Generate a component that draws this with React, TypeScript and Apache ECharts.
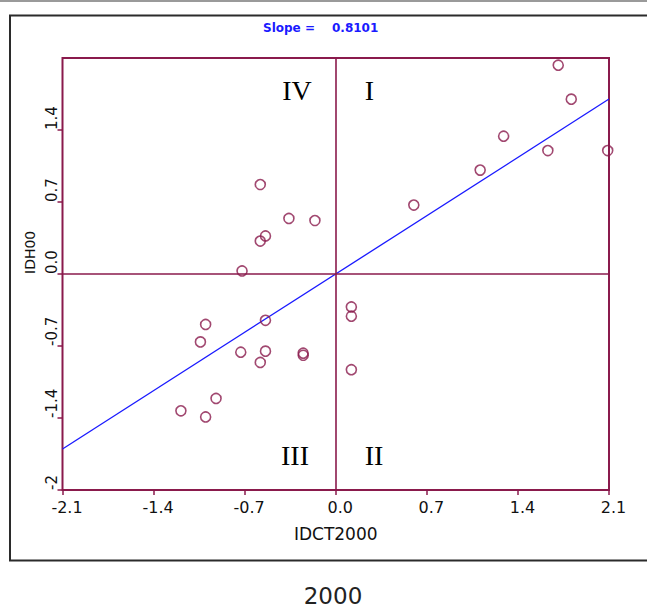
import React, { useEffect, useRef } from "react";
import * as echarts from "echarts";

// ---- data ----
const SLOPE = 0.8101;
const AXIS_MIN = -2.1;
const AXIS_MAX = 2.1;
const TICK_STEP = 0.7;
const xName = "IDCT2000";
const yName = "IDH00";
const caption = "2000";

const xValues = [
  1.71, 1.81, 1.29, 1.11, 1.63, 2.09, 0.6,
  -0.58, -0.36, -0.16, -0.54, -0.58, -0.72,
  -1.0, -1.04, -0.92, -1.19, -1.0, -0.73, -0.54, -0.54, -0.58, -0.25, -0.25,
  0.12, 0.12, 0.12,
];
const yValues = [
  2.03, 1.7, 1.34, 1.01, 1.2, 1.2, 0.67,
  0.87, 0.54, 0.52, 0.37, 0.32, 0.03,
  -0.49, -0.66, -1.21, -1.33, -1.39, -0.76, -0.45, -0.75, -0.86, -0.77, -0.79,
  -0.32, -0.41, -0.93,
];
const quadrantNames = ["I", "II", "III", "IV"];

const MAROON = "#8a1a4c";
const BLUE = "#1a1aff";

export default function App() {
  const ref = useRef<HTMLDivElement>(null);
  useEffect(() => {
    if (!ref.current) return;
    const chart = echarts.init(ref.current, null, { renderer: "svg" });
    const points = xValues.map((x, i) => [x, yValues[i]]);
    const lineData = [
      [AXIS_MIN, AXIS_MIN * SLOPE],
      [AXIS_MAX, AXIS_MAX * SLOPE],
    ];
    const axisCommon = {
      type: "value" as const,
      min: AXIS_MIN,
      max: AXIS_MAX,
      interval: TICK_STEP,
      splitLine: { show: false },
      axisLine: { show: false, onZero: false },
      axisTick: {
        show: true,
        inside: false,
        length: 5,
        lineStyle: { color: MAROON, width: 1.5 },
      },
    };
    const serif = "'Liberation Serif', 'DejaVu Serif', serif";
    const sans = "'DejaVu Sans', sans-serif";
    chart.setOption({
      animation: false,
      backgroundColor: "#ffffff",
      grid: {
        left: 62.5,
        right: 38,
        top: 58,
        bottom: 118,
        show: true,
        borderColor: MAROON,
        borderWidth: 2,
        backgroundColor: "transparent",
      },
      xAxis: {
        ...axisCommon,
        name: xName,
        nameLocation: "middle",
        nameGap: 35,
        nameTextStyle: { color: "#111", fontSize: 17, fontFamily: sans },
        axisLabel: {
          color: "#111",
          fontSize: 16,
          fontFamily: sans,
          margin: 9,
          padding: [0, 0, 0, 9],
          formatter: (v: number) => v.toFixed(1),
        },
      },
      yAxis: {
        ...axisCommon,
        name: yName,
        nameLocation: "middle",
        nameRotate: 90,
        nameGap: 26,
        nameTextStyle: {
          color: "#111",
          fontSize: 14,
          fontFamily: sans,
          align: "left",
        },
        axisLabel: {
          color: "#111",
          fontSize: 15,
          fontFamily: sans,
          rotate: 90,
          margin: 3,
          align: "left",
          verticalAlign: "bottom",
          showMaxLabel: false,
          formatter: (v: number) =>
            Math.abs(v - AXIS_MIN) < 1e-9 ? "-2" : v.toFixed(1),
        },
      },
      graphic: [
        {
          type: "line",
          shape: { x1: 0, y1: 1, x2: 647, y2: 1 },
          style: { stroke: "#9a9a9a", lineWidth: 2 },
          silent: true,
        },
        {
          type: "rect",
          shape: { x: 10, y: 15.5, width: 660, height: 545 },
          style: { fill: "none", stroke: "#2b2b2b", lineWidth: 2 },
          silent: true,
        },
        {
          type: "text",
          x: 263,
          y: 28,
          style: {
            text: "Slope =",
            fill: BLUE,
            fontSize: 12,
            fontWeight: "bold",
            fontFamily: sans,
            verticalAlign: "middle",
          },
        },
        {
          type: "text",
          x: 332,
          y: 28,
          style: {
            text: SLOPE.toFixed(4),
            fill: BLUE,
            fontSize: 12,
            fontWeight: "bold",
            fontFamily: sans,
            verticalAlign: "middle",
          },
        },
        {
          type: "text",
          x: 369.5,
          y: 90,
          style: { text: quadrantNames[0], fill: "#000", fontSize: 28, fontFamily: serif, align: "center", verticalAlign: "middle" },
        },
        {
          type: "text",
          x: 374,
          y: 455,
          style: { text: quadrantNames[1], fill: "#000", fontSize: 28, fontFamily: serif, align: "center", verticalAlign: "middle" },
        },
        {
          type: "text",
          x: 295,
          y: 455,
          style: { text: quadrantNames[2], fill: "#000", fontSize: 28, fontFamily: serif, align: "center", verticalAlign: "middle" },
        },
        {
          type: "text",
          x: 297,
          y: 90,
          style: { text: quadrantNames[3], fill: "#000", fontSize: 28, fontFamily: serif, align: "center", verticalAlign: "middle" },
        },
        {
          type: "text",
          x: 333,
          y: 596,
          style: { text: caption, fill: "#222", fontSize: 23, fontFamily: sans, align: "center", verticalAlign: "middle" },
        },
      ],
      series: [
        {
          type: "line",
          data: lineData,
          symbol: "none",
          lineStyle: { color: BLUE, width: 1.3 },
          z: 3,
          markLine: {
            silent: true,
            symbol: "none",
            label: { show: false },
            lineStyle: { color: MAROON, width: 1.6, type: "solid" },
            data: [{ xAxis: 0 }, { yAxis: 0 }],
          },
        },
        {
          type: "scatter",
          data: points,
          symbol: "circle",
          symbolSize: 10,
          itemStyle: {
            color: "rgba(0,0,0,0)",
            borderColor: MAROON,
            borderWidth: 1.6,
          },
          z: 4,
        },
      ],
    });
    return () => chart.dispose();
  }, []);
  return (
    <div
      ref={ref}
      style={{ position: "absolute", left: 0, top: 0, width: 647, height: 608 }}
    />
  );
}
